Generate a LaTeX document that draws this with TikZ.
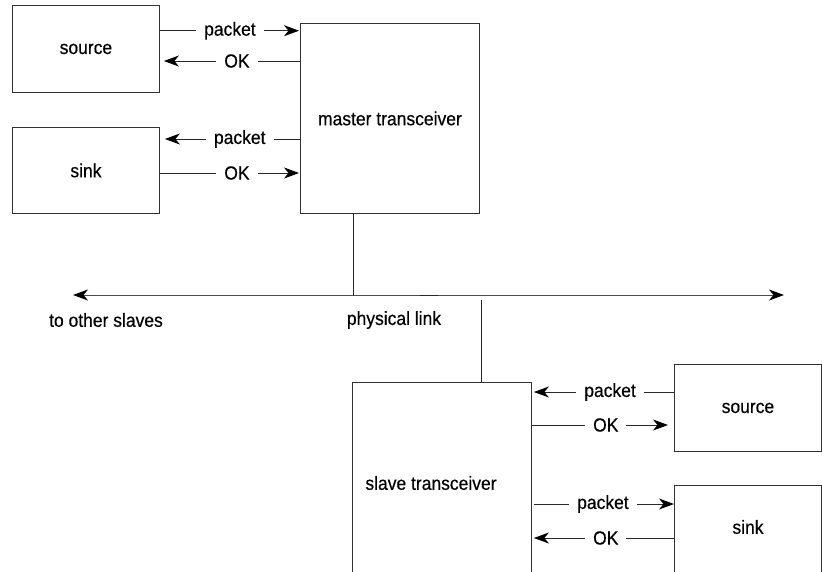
\documentclass[tikz,border=0pt]{standalone}
\usepackage{fontspec}
\setmainfont{Liberation Sans}[FakeStretch=0.92,FakeBold=0.4]
\usetikzlibrary{arrows.meta,calc}
\begin{document}
\begin{tikzpicture}[x=1pt,y=-1pt,
  lbl/.style={font=\fontsize{19}{22}\selectfont},
  box/.style={lbl, draw=black!80, line width=0.9pt, inner sep=0pt, anchor=north west},
  wire/.style={draw=black!85, line width=0.9pt},
  head/.style={},
  arr/.style={wire, -{Stealth[length=15pt,width=11pt,inset=4.5pt,color=black]}},
  tag/.style={lbl, fill=white, inner xsep=8pt, inner ysep=1pt}]
\useasboundingbox (0,0) rectangle (822,571);
\clip (0,0) rectangle (822,571);

% boxes
\node[box, minimum width=147pt, minimum height=87pt] (src1) at (12,5) {source};
\node[box, minimum width=147pt, minimum height=86pt] (snk1) at (12,127) {sink};
\node[box, minimum width=179pt, minimum height=190pt] (master) at (300,23) {master transceiver};
\node[box, minimum width=179pt, minimum height=260pt] (slave) at (352,382) {};
\node[lbl] (slavetext) at (431,483) {slave transceiver};
\node[box, minimum width=147pt, minimum height=87pt] (src2) at (674,364) {source};
\node[box, minimum width=147pt, minimum height=120pt] (snk2) at (674,485) {};
\node[lbl] (snk2text) at (748,527) {sink};

% master side connectors
\coordinate (a1) at ($(src1.north east)+(0,25.7)$);
\coordinate (a2) at ($(src1.north east)+(0,56)$);
\coordinate (a3) at ($(snk1.north east)+(0,12)$);
\coordinate (a4) at ($(snk1.north east)+(0,46)$);
\draw[arr, shorten >=1pt] (a1) -- node[tag, pos=0.5]{packet} (a1 -| master.west);
\draw[arr, shorten >=4pt] (a2 -| master.west) -- node[tag, pos=0.45]{OK} (a2);
\draw[arr, shorten >=5pt] (a3 -| master.west) -- node[tag, pos=0.43]{packet} (a3);
\draw[arr, shorten >=1pt] (a4) -- node[tag, pos=0.55]{OK} (a4 -| master.west);

% slave side connectors
\coordinate (b1) at ($(src2.north west)+(0,28)$);
\coordinate (b2) at ($(src2.north west)+(0,61)$);
\coordinate (b3) at ($(snk2.north west)+(0,19)$);
\coordinate (b4) at ($(snk2.north west)+(0,53)$);
\draw[arr, shorten >=2pt] (b1) -- node[tag, pos=0.45]{packet} (b1 -| slave.east);
\draw[arr, shorten >=6pt] (b2 -| slave.east) -- node[tag, pos=0.52]{OK} (b2);
\draw[arr, shorten <=2pt] (b3 -| slave.east) -- node[tag, pos=0.5]{packet} (b3);
\draw[arr, shorten >=2pt] (b4) -- node[tag, pos=0.48]{OK} (b4 -| slave.east);

% physical link
\coordinate (L) at (73,295);
\coordinate (R) at (784,295);
\draw[wire, draw=black!70, line width=1pt, {Stealth[length=15pt,width=11pt,inset=4.5pt,color=black]}-{Stealth[length=15pt,width=11pt,inset=4.5pt,color=black]}] (L) -- (R);
\coordinate (d1) at (420,295);
\coordinate (d2) at (438,295);
\draw[black!85, line width=1pt] (d1) -- (d2);
\coordinate (m1) at ($(master.south)+(-37,0)$);
\draw[wire] (m1) -- (m1 |- L);
\coordinate (s1) at ($(slave.north west)+(129,0)$);
\coordinate (s0) at (481,300);
\draw[wire] (s1) -- (s0);

\node[lbl] (lblslaves) at (106,320) {to other slaves};
\node[lbl] (lbllink) at (394,320) {physical link};
\end{tikzpicture}
\end{document}
